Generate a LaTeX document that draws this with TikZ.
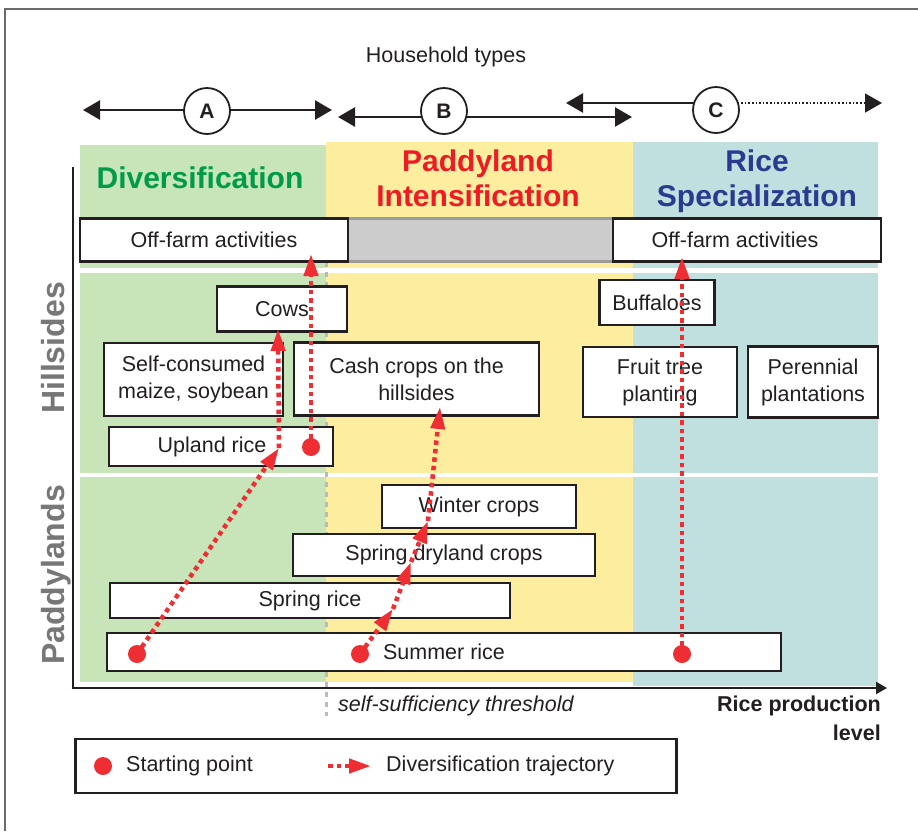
\documentclass[tikz,border=0pt]{standalone}
\usepackage{fontspec}
\setmainfont{Liberation Sans}
\usetikzlibrary{arrows.meta}
\definecolor{cgreen}{HTML}{C8E4B9}
\definecolor{cyellow}{HTML}{FCEE9E}
\definecolor{cteal}{HTML}{BFE0DF}
\definecolor{tgreen}{HTML}{009B48}
\definecolor{tred}{HTML}{ED1C24}
\definecolor{tblue}{HTML}{2B3990}
\definecolor{dotred}{HTML}{EE2E33}
\definecolor{ink}{HTML}{231F20}
\definecolor{lblgrey}{HTML}{777777}
\definecolor{framegrey}{HTML}{6A6A6A}
\definecolor{threshgrey}{HTML}{BBBBBB}
\definecolor{boxgrey}{HTML}{CCCCCC}
\definecolor{boxgreyline}{HTML}{9A9A9A}
\begin{document}
\begin{tikzpicture}[x=1pt,y=-1pt,
  every node/.style={font=\fontsize{21.5}{27}\selectfont, text=ink, inner sep=0pt},
  box/.style={draw=ink, line width=2.5pt, fill=white, align=center},
  circ/.style={circle, draw=ink, line width=1.8pt, fill=white, minimum size=46pt, font=\fontsize{21}{25}\selectfont\bfseries},
  harr/.style={draw=ink, line width=2.5pt},
  traj/.style={draw=dotred, line width=4.5pt, dash pattern=on 4.5pt off 4pt, -{Triangle[length=22pt,width=14pt]}},
  sdot/.style={circle, fill=dotred, minimum size=18pt},
  head/.style={font=\fontsize{30}{34}\selectfont\bfseries, anchor=base},
  side/.style={font=\fontsize{32}{36}\selectfont\bfseries, text=lblgrey, rotate=90, anchor=base}
]
\useasboundingbox (0,0) rectangle (918,831);
% outer frame
\draw[framegrey, line width=1.5pt] (5,831) -- (5,9) -- (918,9);

% bands
\fill[cgreen] (80,145) rectangle (326,682);
\fill[cyellow] (326,142) rectangle (633,682);
\fill[cteal] (633,142) rectangle (878,686);
\draw[white, line width=5pt] (80,270.5) -- (878,270.5);
\draw[white, line width=4.5pt] (80,475) -- (878,475);

% threshold
\coordinate (thTop) at (326,262);
\coordinate (thBot) at (326,716);
\draw[threshgrey, line width=3pt, dash pattern=on 5pt off 5pt] (thTop) -- (thBot);

% axes
\coordinate (ytop) at (73,167);
\coordinate (org) at (73,688);
\coordinate (xend) at (887,688);
\draw[ink, line width=2pt, -{Triangle[length=11pt,width=12pt]}] (ytop) -- (org) -- (xend);

% household types
\node[anchor=base] (ht) at (446,62) {Household types};
\coordinate (aL) at (83,110);
\coordinate (aR) at (332,110);
\draw[harr, {Triangle[length=17pt,width=19pt]}-{Triangle[length=17pt,width=19pt]}] (aL) -- (aR);
\node[circ] (cA) at (207,111) {A};
\coordinate (bL) at (338,117);
\coordinate (bR) at (632,117);
\draw[harr, {Triangle[length=17pt,width=19pt]}-{Triangle[length=17pt,width=19pt]}] (bL) -- (bR);
\node[circ] (cB) at (444,111) {B};
\coordinate (cL) at (566,103);
\coordinate (cM) at (716,103);
\coordinate (cR) at (882,103);
\draw[harr, {Triangle[length=17pt,width=19pt]}-] (cL) -- (cM);
\draw[ink, line width=1.6pt, dotted, -{Triangle[length=17pt,width=19pt]}] (cM) -- (cR);
\node[circ] (cC) at (716,110) {C};

% headings
\node[head, text=tgreen] (hDiv) at (200,188) {Diversification};
\node[head, text=tred] (hPad1) at (478,171) {Paddyland};
\node[head, text=tred] (hPad2) at (478,206) {Intensification};
\node[head, text=tblue] (hRice1) at (757,171) {Rice};
\node[head, text=tblue] (hRice2) at (757,206) {Specialization};

% side labels
\node[side] (lHill) at (64,348) {Hillsides};
\node[side] (lPad) at (64,575) {Paddylands};

% off-farm row
\node[draw=boxgreyline, fill=boxgrey, line width=2.5pt, minimum width=265pt, minimum height=43pt] (grey) at (480.5,240) {};
\node[box, minimum width=268pt, minimum height=43pt] (offL) at (214,240) {Off-farm activities};
\node[box, minimum width=268pt, minimum height=43pt] (offR) at (747,240) {};
\node (offRt) at (735,240) {Off-farm activities};

% hillsides
\node[box, minimum width=130pt, minimum height=45pt] (cows) at (282,309) {Cows};
\node[box, minimum width=179pt, minimum height=73pt] (selfc) at (193.5,379.5) {Self-consumed\\maize, soybean};
\node[box, minimum width=245pt, minimum height=73pt] (cash) at (416.5,379) {Cash crops on the\\hillsides};
\node[box, minimum width=224pt, minimum height=39pt] (upland) at (221,446.5) {};
\node (uplandt) at (212,446.5) {Upland rice};
\node[box, minimum width=115pt, minimum height=45pt] (buff) at (657,302.5) {Buffaloes};
\node[box, minimum width=154pt, minimum height=70pt] (fruit) at (660,382) {Fruit tree\\planting};
\node[box, minimum width=130pt, minimum height=71pt] (peren) at (813,382) {Perennial\\plantations};

% paddylands
\node[box, minimum width=194pt, minimum height=43pt] (winter) at (479,506.5) {Winter crops};
\node[box, minimum width=302pt, minimum height=42pt] (sdry) at (444,555) {Spring dryland crops};
\node[box, minimum width=400pt, minimum height=35pt] (srice) at (310,600.5) {Spring rice};
\node[box, minimum width=674pt, minimum height=38pt] (summer) at (444,652) {Summer rice};

% trajectories
\coordinate (p1) at (137,654);
\coordinate (p2) at (311,447);
\coordinate (p3) at (360,654);
\coordinate (p4) at (682,654);
\coordinate (q1) at (279,448);
\coordinate (q2) at (278,329);
\coordinate (q3) at (311,254);
\coordinate (r1) at (393,609);
\coordinate (r2) at (411,562);
\coordinate (r3) at (428,521);
\coordinate (r4) at (440,407);
\coordinate (q4) at (682,257);
\draw[traj] (p1) -- (q1);
\draw[traj] (q1) -- (q2);
\draw[traj] (p2) -- (q3);
\draw[traj] (p3) -- (r1);
\draw[traj] (r1) -- (r2);
\draw[traj] (r2) -- (r3);
\draw[traj] (r3) -- (r4);
\draw[traj] (p4) -- (q4);
\node[sdot] (d1) at (p1) {};
\node[sdot] (d2) at (p2) {};
\node[sdot] (d3) at (p3) {};
\node[sdot] (d4) at (p4) {};

% axis labels
\node[anchor=base west, font=\fontsize{21.5}{27}\selectfont\itshape] (thr) at (338,711) {self-sufficiency threshold};
\node[anchor=base east, font=\fontsize{21.5}{27}\selectfont\bfseries] (xl1) at (881,711) {Rice production};
\node[anchor=base east, font=\fontsize{21.5}{27}\selectfont\bfseries] (xl2) at (881,740) {level};

% legend
\node[box, minimum width=601pt, minimum height=54pt] (legend) at (376,766) {};
\node[sdot] (ldot) at (103,766) {};
\node[anchor=west] (ltxt1) at (126,766) {Starting point};
\coordinate (la) at (328,766);
\coordinate (lb) at (371,766);
\draw[traj] (la) -- (lb);
\node[anchor=west] (ltxt2) at (386,766) {Diversification trajectory};
\end{tikzpicture}
\end{document}
